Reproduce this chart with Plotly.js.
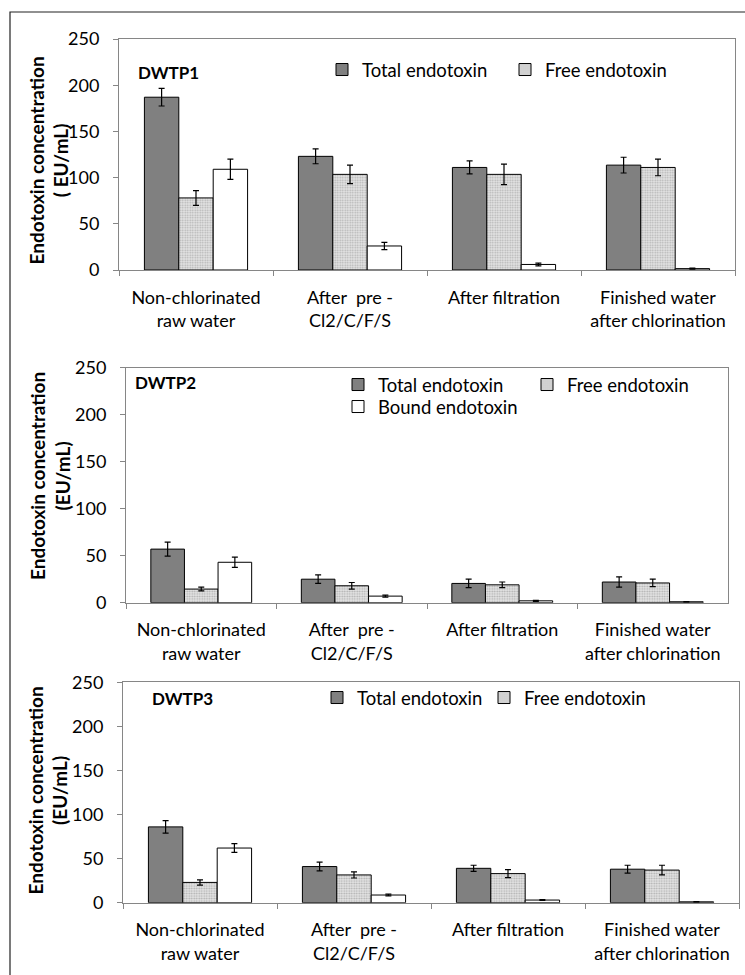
<!DOCTYPE html>
<html>
<head>
<meta charset="utf-8">
<script src="https://cdn.plot.ly/plotly-3.0.1.min.js"></script>
<style>html,body{margin:0;padding:0;background:#fff;}#chart{width:745px;height:975px;}</style>
</head>
<body>
<div id="chart"></div>
<script>
// ---------- data ----------
var categories = ["Non-chlorinated<br>raw water", "After\u00a0 pre -<br>Cl2/C/F/S", "After filtration", "Finished water<br>after chlorination"];
var seriesNames = ["Total endotoxin", "Free endotoxin", "Bound endotoxin"];
var panelTitles = ["DWTP1", "DWTP2", "DWTP3"];
var yTitles = ["Endotoxin concentration<br>( EU/mL)", "Endotoxin concentration<br>(EU/mL)", "Endotoxin concentration<br>(EU/mL)"];
var yTickVals = [0, 50, 100, 150, 200, 250];

var dwtp1Total = [187, 123, 111, 113.5];
var dwtp1TotalErr = [9.5, 8, 7, 8.5];
var dwtp1Free = [78, 103.5, 103.5, 111];
var dwtp1FreeErr = [8, 10, 11, 9];
var dwtp1Bound = [109, 26, 6, 1.5];
var dwtp1BoundErr = [11, 4, 1.5, 0.5];

var dwtp2Total = [57, 25, 20.5, 22];
var dwtp2TotalErr = [7.5, 4.5, 4.5, 5.5];
var dwtp2Free = [14.5, 18, 19, 21];
var dwtp2FreeErr = [2, 3.5, 3, 4];
var dwtp2Bound = [43, 7, 2, 1];
var dwtp2BoundErr = [5.5, 1, 0.5, 0.3];

var dwtp3Total = [86, 41, 39, 38];
var dwtp3TotalErr = [7, 5, 3.5, 4.5];
var dwtp3Free = [23, 31.5, 33, 37];
var dwtp3FreeErr = [3, 3.5, 4.5, 5.5];
var dwtp3Bound = [62, 8.7, 3, 1];
var dwtp3BoundErr = [5, 1, 0.5, 0.3];

// ---------- styling ----------
var W = 745, H = 975;
function px(x) { return x / W; }
function py(y) { return 1 - y / H; }
var FONT = "Lato, 'Open Sans', sans-serif";
var AXIS = "#868686";

var styles = [
  {color: "#808080"},
  {color: "#dcdcdc", pattern: {shape: ".", fgcolor: "#b0b0b0", bgcolor: "#e6e6e6", size: 2.5, solidity: 0.4}},
  {color: "#ffffff"}
];

var panels = [
  {vals: [dwtp1Total, dwtp1Free, dwtp1Bound], errs: [dwtp1TotalErr, dwtp1FreeErr, dwtp1BoundErr],
   box: [119, 735, 39, 270], legends: [[0, "legend", 322, 70], [1, "legend2", 505, 70]],
   title: [136, 72], ytitle: [48.5, 160]},
  {vals: [dwtp2Total, dwtp2Free, dwtp2Bound], errs: [dwtp2TotalErr, dwtp2FreeErr, dwtp2BoundErr],
   box: [126, 728, 367.7, 602.7], legends: [[0, "legend3", 338, 385], [1, "legend4", 527, 385], [2, "legend5", 338, 407]],
   title: [133, 382], ytitle: [50, 476]},
  {vals: [dwtp3Total, dwtp3Free, dwtp3Bound], errs: [dwtp3TotalErr, dwtp3FreeErr, dwtp3BoundErr],
   box: [123, 739, 682.3, 902.7], legends: [[0, "legend6", 317, 698], [1, "legend7", 484, 698]],
   title: [150, 698], ytitle: [47.5, 791]}
];

var traces = [];
var layout = {
  width: W, height: H,
  margin: {l: 0, r: 0, t: 0, b: 0},
  paper_bgcolor: "#fff", plot_bgcolor: "#fff",
  font: {family: FONT, color: "#000", size: 18},
  barmode: "group", bargap: 0.33, bargroupgap: 0,
  showlegend: true,
  annotations: [],
  shapes: [{type: "rect", xref: "paper", yref: "paper", x0: px(10), x1: px(780), y0: py(12), y1: py(1000),
            line: {color: "#222", width: 1.2}, fillcolor: "rgba(0,0,0,0)", layer: "below"}]
};

panels.forEach(function (p, pi) {
  var sfx = pi === 0 ? "" : String(pi + 1);
  var legendMap = {};
  p.legends.forEach(function (l) { legendMap[l[0]] = l; });
  for (var s = 0; s < 3; s++) {
    var st = styles[s];
    var marker = {color: st.color, line: {color: "#000", width: 1}};
    if (st.pattern) marker.pattern = st.pattern;
    var lg = legendMap[s];
    traces.push({
      type: "bar", name: seriesNames[s], x: categories, y: p.vals[s],
      xaxis: "x" + sfx, yaxis: "y" + sfx,
      marker: marker,
      error_y: {type: "data", array: p.errs[s], visible: true, color: "#000", thickness: 1.2, width: 3},
      showlegend: !!lg, legend: lg ? lg[1] : "legend",
      hoverinfo: "y"
    });
    if (lg) {
      layout[lg[1]] = {x: px(lg[2]), y: py(lg[3]), xref: "paper", yref: "paper",
        xanchor: "left", yanchor: "middle", orientation: "h",
        bgcolor: "rgba(0,0,0,0)", borderwidth: 0, font: {family: FONT, size: 18.5, color: "#000"}};
    }
  }
  var b = p.box;
  layout["xaxis" + sfx] = {
    domain: [px(b[0]), px(b[1])], anchor: "y" + sfx, type: "category",
    showline: true, linecolor: AXIS, linewidth: 1, mirror: true,
    ticks: "outside", tickson: "boundaries", ticklen: 5, tickcolor: AXIS,
    tickfont: {family: FONT, size: 18, color: "#000"}, ticklabelstandoff: 11,
    showgrid: false, zeroline: false, fixedrange: true
  };
  layout["yaxis" + sfx] = {
    domain: [py(b[3]), py(b[2])], anchor: "x" + sfx, range: [0, 250],
    tickvals: yTickVals, ticks: "outside", ticklen: 5, tickcolor: AXIS,
    showline: true, linecolor: AXIS, linewidth: 1, mirror: true,
    tickfont: {family: FONT, size: 18, color: "#000"}, ticklabelstandoff: 10,
    showgrid: false, zeroline: false, fixedrange: true
  };
  layout.annotations.push({
    text: "<b>" + panelTitles[pi] + "</b>", xref: "paper", yref: "paper",
    x: px(p.title[0]), y: py(p.title[1]), xanchor: "left", yanchor: "middle",
    showarrow: false, font: {family: FONT, size: 17, color: "#000"}
  });
  layout.annotations.push({
    text: "<b>" + yTitles[pi] + "</b>", xref: "paper", yref: "paper",
    x: px(p.ytitle[0]), y: py(p.ytitle[1]), xanchor: "center", yanchor: "middle",
    textangle: -90, showarrow: false, font: {family: FONT, size: 19, color: "#000"}
  });
});

Plotly.newPlot("chart", traces, layout, {displayModeBar: false, staticPlot: true});
</script>
</body>
</html>
